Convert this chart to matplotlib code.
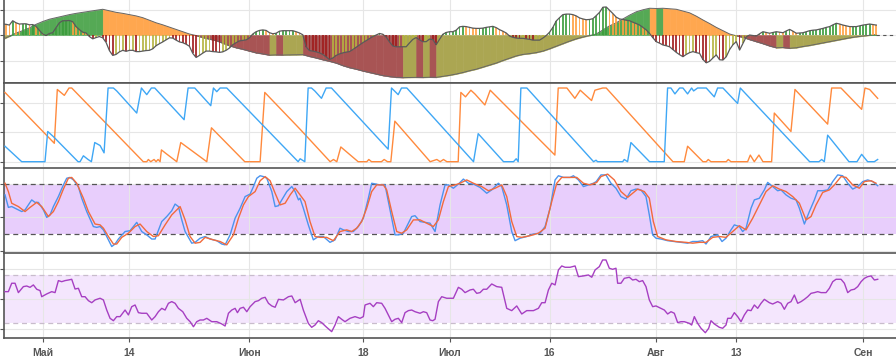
import numpy as np
import matplotlib.pyplot as plt

# time axis: day offsets from 25 Apr 2018
start = np.datetime64("2018-04-25")
tick_dates = np.array(["2018-05-01", "2018-05-14", "2018-06-01", "2018-06-18", "2018-07-01",
                       "2018-07-16", "2018-08-01", "2018-08-13", "2018-09-01"], dtype="datetime64[D]")
tick_labels = ["Май", "14", "Июн", "18", "Июл", "16", "Авг", "13", "Сен"]

# panel 1: oscillator histogram (12h candles) and its smoothed signal (daily)
hist = [0.43, 0.42, 0.39, 0.56, 0.48, 0.43, 0.44, 0.44, 0.40, 0.41,
        0.34, 0.18, 0.04, -0.02, 0.06, 0.09, 0.29, 0.48, 0.56, 0.56,
        0.57, 0.52, 0.33, 0.21, 0.11, 0.08, -0.06, -0.15, -0.10, -0.06,
        -0.11, -0.29, -0.61, -0.80, -0.76, -0.66, -0.60, -0.64, -0.60, -0.60,
        -0.65, -0.65, -0.63, -0.61, -0.60, -0.54, -0.42, -0.34, -0.27, -0.19,
        -0.11, -0.12, -0.20, -0.27, -0.30, -0.36, -0.44, -0.72, -0.88, -0.80,
        -0.71, -0.63, -0.63, -0.65, -0.66, -0.68, -0.66, -0.60, -0.51, -0.38,
        -0.30, -0.23, -0.21, -0.19, -0.11, 0.04, 0.13, 0.18, 0.20, 0.18,
        0.09, 0.05, 0.07, 0.15, 0.17, 0.17, 0.17, 0.17, 0.13, 0.08,
        0.01, -0.47, -0.61, -0.63, -0.66, -0.70, -0.76, -0.86, -0.96, -0.90,
        -0.80, -0.74, -0.70, -0.67, -0.65, -0.57, -0.48, -0.39, -0.30, -0.22,
        -0.14, -0.06, 0.00, 0.06, 0.03, -0.08, -0.27, -0.43, -0.46, -0.46,
        -0.46, -0.46, -0.31, -0.17, -0.10, -0.19, -0.26, -0.26, -0.16, -0.18,
        -0.38, -0.17, 0.03, 0.10, 0.13, 0.13, 0.19, 0.32, 0.34, 0.33,
        0.30, 0.27, 0.26, 0.26, 0.27, 0.30, 0.32, 0.34, 0.29, 0.21,
        0.15, 0.08, -0.04, -0.09, -0.12, -0.13, -0.13, -0.15, -0.17, -0.20,
        -0.20, -0.20, -0.12, -0.02, 0.11, 0.30, 0.55, 0.68, 0.80, 0.82,
        0.82, 0.80, 0.75, 0.67, 0.63, 0.60, 0.61, 0.64, 0.76, 0.89,
        1.09, 1.10, 0.97, 0.84, 0.70, 0.63, 0.61, 0.58, 0.56, 0.50,
        0.45, 0.39, 0.30, 0.20, 0.06, -0.11, -0.26, -0.32, -0.39, -0.42,
        -0.46, -0.57, -0.68, -0.77, -0.85, -0.76, -0.69, -0.65, -0.69, -0.72,
        -0.96, -1.09, -1.03, -0.90, -0.78, -0.97, -0.98, -0.85, -0.57, -0.38,
        -0.26, -0.59, -0.33, -0.07, 0.00, -0.02, -0.04, 0.05, 0.13, 0.10,
        0.07, 0.10, 0.13, 0.11, 0.09, 0.16, 0.22, 0.15, 0.07, 0.08,
        0.09, 0.13, 0.17, 0.19, 0.20, 0.23, 0.26, 0.30, 0.33, 0.40,
        0.46, 0.43, 0.39, 0.36, 0.33, 0.33, 0.33, 0.36, 0.39, 0.41,
        0.43, 0.41, 0.39]
signal = [-0.17, -0.05, 0.08, 0.17, 0.28, 0.42, 0.53, 0.62, 0.68, 0.74,
          0.80, 0.85, 0.89, 0.93, 0.97, 1.01, 0.95, 0.89, 0.85, 0.80,
          0.75, 0.68, 0.58, 0.48, 0.40, 0.31, 0.22, 0.13, 0.04, -0.02,
          -0.10, -0.16, -0.22, -0.32, -0.42, -0.50, -0.56, -0.63, -0.70, -0.74,
          -0.79, -0.78, -0.785, -0.78, -0.775, -0.77, -0.84, -0.90, -0.97, -1.03,
          -1.10, -1.20, -1.28, -1.34, -1.41, -1.47, -1.53, -1.59, -1.63, -1.66,
          -1.67, -1.665, -1.66, -1.665, -1.655, -1.66, -1.62, -1.58, -1.53, -1.47,
          -1.40, -1.34, -1.26, -1.18, -1.10, -1.00, -0.91, -0.82, -0.76, -0.73,
          -0.69, -0.63, -0.54, -0.44, -0.34, -0.24, -0.15, -0.08, -0.02, 0.04,
          0.20, 0.36, 0.48, 0.63, 0.78, 0.91, 0.99, 1.05, 1.04, 1.05,
          1.03, 1.01, 0.94, 0.87, 0.74, 0.59, 0.45, 0.30, 0.17, 0.04,
          -0.03, -0.09, -0.18, -0.26, -0.34, -0.43, -0.50, -0.49, -0.52, -0.50,
          -0.45, -0.41, -0.36, -0.31, -0.26, -0.21, -0.16, -0.11, -0.07, -0.04,
          -0.01, 0.02]

# panel 2: aroon up / down
aroon_up_day = [0.34, 7.74, 8.19, 9.24, 9.94, 10.35, 21.08, 21.6, 21.84, 22.2, 22.7, 23.0, 23.3, 23.6,
                23.8, 24.5, 26.1, 26.7, 30.6, 31.3, 36.3, 38.6, 39.3, 44.6, 49.1, 49.6, 50.1, 50.7,
                53.3, 54.6, 54.9, 55.3, 56.8, 57.2, 57.7, 58.2, 58.8, 64.1, 65.1, 65.6, 66.1, 66.6,
                68.3, 68.7, 69.4, 70.2, 70.8, 72.3, 73.1, 82.8, 83.3, 84.6, 85.8, 86.6, 88.3, 88.8,
                89.97, 90.5, 100.5, 102.2, 102.7, 105.0, 105.5, 105.8, 106.2, 108.5, 108.8, 109.2,
                111.7, 112.1, 112.7, 113.4, 114.0, 115.3, 115.7, 118.2, 118.8, 123.7, 124.3, 125.7,
                128.8, 129.3, 130.0, 131.2]
aroon_up = [94, 25, 98, 90, 100, 100, 0, 0, 3, 0, 3, 0, 3, 0,
            16, 11, 0, 26, 0, 46, 0, 0, 94, 44, 0, 3, 0, 20,
            0, 0, 3, 0, 0, 3, 0, 0, 55, 0, 3, 0, 3, 0,
            0, 94, 88, 97, 92, 77, 97, 9, 100, 100, 86, 97, 83, 97,
            100, 100, 0, 0, 21, 0, 0, 3, 0, 0, 3, 0,
            0, 9, 0, 9, 0, 0, 66, 41, 98, 51, 100, 100,
            71, 100, 98, 86]
aroon_dn_day = [0.34, 2.85, 6.34, 6.75, 7.6, 11.3, 11.6, 12.1, 12.8, 13.3, 13.8, 14.6, 15.2, 15.8,
                16.6, 17.1, 20.1, 20.8, 21.6, 22.3, 22.8, 27.2, 27.8, 28.8, 31.2, 31.6, 32.1, 32.6,
                33.6, 44.3, 44.6, 45.3, 45.8, 46.3, 46.8, 47.8, 48.5, 49.3, 57.8, 58.3, 59.3, 59.8,
                60.6, 70.6, 71.3, 75.1, 76.6, 77.0, 77.3, 77.7, 78.6, 88.6, 88.97, 89.2, 92.97, 93.2,
                93.7, 94.2, 97.0, 99.2, 99.7, 100.2, 100.8, 101.5, 102.0, 102.7, 103.3, 103.6, 104.2,
                105.5, 106.7, 107.2, 108.0, 110.2, 110.6, 121.0, 122.4, 122.8, 123.2, 123.7, 126.9,
                128.1, 128.8, 129.7, 130.7, 131.2]
aroon_dn = [21, 0, 0, 41, 34, 0, 0, 8, 3, 0, 26, 22, 12, 100,
            100, 96, 66, 100, 91, 100, 100, 57, 100, 100, 76, 100, 95, 100,
            100, 0, 4, 0, 100, 100, 96, 86, 100, 100, 17, 100, 91, 100,
            100, 0, 38, 0, 0, 4, 0, 100, 100, 0, 2, 0, 0, 3,
            0, 26, 0, 0, 100, 100, 92, 100, 100, 92, 100, 96, 100,
            100, 88, 100, 100, 79, 100, 0, 0, 3, 0, 36, 0,
            0, 10, 0, 0, 3]

# panel 3: stochastic %K / %D
k_day = [0.35, 0.85, 1.35, 1.85, 2.85, 3.35, 4.35, 4.85, 5.35, 6.1, 6.6, 7.1, 7.6, 8.35, 9.1, 9.6,
         10.1, 10.6, 11.35, 11.85, 12.6, 13.6, 14.1, 14.6, 15.1, 15.6, 16.35, 16.85, 17.35, 18.35,
         19.1, 20.1, 20.85, 21.6, 22.35, 22.85, 23.85, 24.6, 25.35, 25.85, 26.35, 26.85, 27.35,
         28.35, 28.85, 29.6, 30.35, 31.1, 32.1, 32.85, 33.35, 34.1, 34.85, 35.6, 36.35, 37.1, 37.6,
         38.1, 38.6, 39.1, 39.6, 40.35, 40.85, 41.35, 41.85, 42.6, 43.35, 43.85, 44.35,
         44.58, 45.08, 45.83, 46.58, 47.33, 48.08, 49.08, 49.83, 50.58, 51.08, 51.83, 52.58, 53.33,
         54.08, 54.83, 55.33, 56.58, 57.33, 57.83, 58.83, 59.33, 60.08, 60.83, 61.33, 61.83, 62.58,
         63.33, 64.08, 64.83, 65.58, 66.33, 66.83, 67.58, 68.33, 69.08, 69.83, 70.58, 71.58, 72.58,
         73.33, 74.33, 74.83, 75.58, 76.33, 76.83, 77.58, 78.58, 79.58, 80.58, 81.33, 82.08, 82.83,
         83.33, 84.08, 85.08, 85.58, 86.33, 87.08, 87.83, 88.58,
         89.0, 89.71, 90.46, 91.21, 91.96, 92.71, 93.46, 94.21, 94.96, 95.71, 96.46, 96.96, 97.46,
         97.96, 98.71, 99.71, 100.71, 101.71, 102.71, 103.46, 104.21, 104.96, 105.46, 106.21, 107.21,
         107.86, 108.46, 109.21, 109.71, 110.46, 110.96, 111.46, 112.21, 112.71, 113.46, 114.21,
         114.71, 115.46, 116.21, 116.71, 117.46, 118.21, 118.96, 119.46, 120.21, 120.96, 121.71,
         122.21, 122.96, 123.71, 124.46, 125.21, 125.96, 126.71, 127.46, 128.21, 128.96, 129.71,
         130.46, 131.21]
stoch_k = [67, 52, 53, 51, 47, 49, 61, 58, 58, 49, 40, 43, 53, 65, 79, 87,
           88, 85, 77, 63, 47, 29, 28, 29, 25, 17, 5, 8, 14, 23,
           24, 34, 23, 19, 14, 14, 35, 41, 48, 56, 53, 37, 23,
           9, 10, 15, 17, 14, 12, 8, 7, 19, 39, 51, 65, 68, 77,
           87, 90, 89, 87, 71, 53, 54, 61, 71, 77, 71, 61,
           63, 51, 31, 13, 17, 17, 10, 13, 27, 25, 23, 23, 29,
           39, 63, 81, 79, 79, 59, 19, 19, 21, 33, 41, 42, 35,
           34, 33, 23, 55, 79, 79, 75, 80, 86, 81, 80, 76, 69,
           73, 81, 77, 55, 23, 12, 15, 17, 20, 21, 29, 51, 85,
           90, 88, 88, 90, 85, 77, 79, 81,
           83, 91, 91, 81, 75, 65, 62, 72, 74, 73, 65, 43, 19,
           15, 14, 12, 11, 10, 9, 11, 11, 12, 8, 17, 19,
           11, 15, 25, 31, 29, 23, 27, 51, 61, 63, 73,
           82, 77, 72, 73, 67, 63, 61, 51, 32, 47, 61,
           72, 72, 73, 83, 91, 90, 81, 74, 77, 83, 85,
           83, 78]
d_day = [0.35, 0.85, 1.35, 1.85, 2.35, 3.35, 4.1, 5.1, 5.85, 6.85, 7.6, 8.35, 9.1, 9.85, 10.35,
         11.1, 12.1, 12.85, 13.85, 14.6, 15.1, 15.85, 16.6, 17.1, 17.85, 18.85, 19.85, 20.6, 21.6,
         22.6, 23.35, 24.35, 25.35, 26.6, 27.35, 28.1, 28.85, 29.6, 30.35, 31.6, 32.6, 33.6, 34.6,
         35.35, 36.1, 36.85, 37.85, 38.6, 39.35, 40.1, 40.85, 41.6, 42.35, 43.1, 43.85, 44.6,
         45.33, 46.08, 46.83, 47.58, 48.58, 49.58, 50.58, 51.58, 52.33, 53.08, 53.83, 54.58, 55.33,
         56.08, 57.08, 57.58, 58.33, 59.08, 59.83, 60.58, 61.58, 62.58, 63.58, 64.58, 65.33, 66.08,
         66.83, 67.83, 68.58, 69.58, 70.58, 71.83, 72.83, 73.83, 74.83, 75.58, 76.33, 77.08, 77.83,
         79.08, 80.33, 81.33, 82.33, 83.08, 83.83, 85.08, 86.08, 87.08, 88.08, 89.08,
         89.71, 90.71, 91.71, 92.71, 93.71, 94.46, 95.21, 96.21, 96.96, 97.56, 98.21, 99.46, 100.96,
         102.46, 103.46, 104.46, 105.46, 106.46, 107.46, 108.46, 109.46, 110.46, 111.46, 112.46,
         113.46, 114.46, 115.46, 116.46, 117.46, 118.46, 119.46, 120.46, 121.21, 121.96, 122.96,
         123.96, 124.71, 125.71, 126.46, 127.46, 128.46, 129.21, 130.21, 130.96]
stoch_d = [81, 71, 57, 55, 53, 47, 52, 58, 53, 41, 47, 59, 74, 87, 88,
           81, 63, 47, 32, 31, 27, 17, 8, 8, 16, 21, 29, 32, 23,
           17, 18, 31, 43, 53, 37, 17, 9, 10, 16, 13, 11, 7, 19,
           39, 55, 65, 71, 84, 89, 84, 69, 55, 57, 67, 75, 67,
           59, 35, 17, 16, 16, 12, 23, 25, 23, 27, 35, 51, 71,
           79, 79, 73, 47, 23, 21, 25, 37, 37, 33, 29, 37, 59,
           77, 79, 81, 85, 81, 77, 72, 75, 79, 65, 35, 17, 16,
           18, 21, 27, 59, 81, 88, 88, 88, 81, 79, 82,
           89, 92, 85, 71, 64, 69, 74, 71, 63, 35, 17, 13, 11,
           10, 9, 10, 10, 16, 17, 16, 23, 30, 25, 39,
           55, 71, 78, 74, 71, 65, 57, 37, 41, 55, 70,
           73, 79, 89, 88, 79, 75, 83, 84, 81]

# panel 4: RSI
rsi_day = [0.35, 0.85, 1.35, 1.85, 2.35, 3.1, 3.6, 4.1, 4.6, 5.1, 5.6, 5.85, 6.6, 7.35, 7.85, 8.35,
           8.85, 9.35, 9.85, 10.35, 10.85, 11.35, 11.85, 12.35, 12.85, 13.35, 13.85, 14.6, 15.1,
           15.6, 16.1, 16.6, 17.1, 17.6, 18.35, 18.85, 19.35, 19.85, 20.35, 20.85, 21.6, 22.35,
           22.85, 23.35, 23.85, 24.35, 24.85, 25.35, 25.85, 26.35, 27.0, 27.6, 28.1, 28.6, 29.1,
           29.6, 30.1, 30.6, 31.35, 32.1, 32.85, 33.35, 33.85, 34.35, 34.85, 35.2, 35.6, 36.1,
           36.6, 37.1, 37.85, 38.35, 38.85, 39.35, 39.85, 40.35, 40.85, 41.35, 42.1, 42.85, 43.35,
           43.85, 44.6,
           45.08, 45.83, 46.33, 46.83, 47.33, 47.83, 48.58, 49.33, 49.83, 50.33, 50.83, 51.33,
           52.08, 52.83, 53.58, 54.08, 54.33, 55.08, 55.58, 56.08, 56.83, 57.33, 57.83, 58.33,
           58.83, 59.33, 59.83, 60.33, 60.83, 61.33, 61.83, 62.58, 63.08, 63.58, 64.08, 64.48,
           64.83, 65.33, 65.83, 66.58, 67.58, 68.33, 68.83, 69.33, 70.08, 70.58, 71.08, 71.58,
           72.08, 72.58, 73.33, 74.08, 74.83, 75.58, 76.33, 77.08, 77.83, 78.58, 79.58, 80.33,
           80.83, 81.33, 81.83, 82.33, 82.83, 83.33, 83.83, 84.33, 85.08, 85.83, 86.33, 87.08,
           87.83, 88.33, 88.83,
           89.46, 89.96, 90.46, 90.96, 91.46, 91.96, 92.21, 92.71, 93.21, 93.96, 94.46, 94.96,
           95.46, 95.96, 96.46, 96.96, 97.46, 97.96, 98.71, 99.21, 99.71, 100.21, 100.71, 101.21,
           101.71, 102.21, 102.96, 103.31, 103.71, 104.21, 104.71, 105.36, 105.86, 106.21, 106.71,
           107.46, 107.96, 108.46, 108.71, 109.21, 109.71, 110.21, 110.71, 111.21, 111.71, 112.21,
           112.71, 113.21, 113.71, 114.21, 114.96, 115.46, 116.21, 116.71, 117.21, 117.71, 118.21,
           118.71, 119.21, 119.71, 120.21, 120.71, 121.21, 121.71, 122.21, 122.71, 123.46, 123.96,
           124.46, 124.96, 125.71, 126.21, 126.71, 127.21, 127.71, 128.21, 128.71, 129.21, 129.71,
           130.21, 130.71, 131.21]
rsi = [56.1, 56.1, 63.1, 63.1, 55.3, 60.3, 60.8, 59.7, 61.7, 58.1, 57.0, 51.9, 54.2, 56.1, 55.3, 65.3,
       64.4, 65.3, 65.8, 66.4, 58.3, 58.9, 51.9, 51.9, 48.6, 46.9, 49.2, 50.6, 49.2,
       40.8, 33.9, 31.9, 35.3, 35.3, 40.8, 36.7, 43.6, 45.0, 38.6, 38.1, 38.1, 32.5,
       35.3, 39.4, 42.2, 40.8, 46.4, 47.8, 46.4, 42.2, 39.4, 33.9, 31.1, 26.9, 31.1,
       32.5, 32.5, 33.9, 31.1, 31.1, 29.2, 27.5, 38.1, 40.8, 42.2, 38.6, 42.2, 43.1,
       39.4, 43.6, 47.8, 48.6, 50.6, 51.4, 46.4, 44.2, 43.1, 49.7, 49.2, 51.9, 52.5,
       46.9, 49.7,
       40.8, 29.7, 26.4, 28.3, 31.9, 30.3, 26.4, 22.8, 28.3, 35.3, 33.1, 31.1,
       33.9, 35.3, 33.9, 35.3, 45.0, 46.4, 43.6, 46.9, 46.4, 42.2, 36.7, 31.1,
       33.1, 33.9, 30.3, 38.6, 40.3, 40.8, 39.4, 38.1, 39.4, 38.6, 32.5, 31.9,
       33.1, 47.8, 51.9, 50.6, 50.6, 59.7, 58.1, 55.3, 57.5, 58.1, 54.7, 55.3,
       58.1, 58.1, 62.5, 60.3, 59.7, 42.2, 40.3, 44.2, 37.5, 40.3, 40.3, 42.2,
       46.9, 46.9, 57.5, 63.1, 61.7, 74.2, 77.5, 76.4, 76.4, 77.5, 68.6, 69.2,
       70.0, 68.1, 74.2,
       76.9, 82.5, 82.5, 75.6, 74.7, 75.6, 63.1, 63.1, 67.2, 68.1, 65.8, 66.4,
       64.4, 65.3, 60.3, 49.2, 43.6, 44.2, 42.2, 40.8, 37.5, 39.4, 38.1, 30.3,
       31.1, 31.1, 29.7, 28.3, 35.3, 29.7, 25.6, 21.9, 25.6, 31.9, 29.2,
       26.4, 25.6, 28.3, 33.9, 33.9, 38.6, 35.3, 31.1, 36.7, 40.8, 40.3,
       45.0, 42.2, 46.4, 49.7, 46.9, 45.8, 47.8, 46.4, 41.4, 46.4, 47.8,
       53.3, 46.4, 47.8, 49.7, 51.9, 54.7, 55.3, 56.1, 55.3, 55.3, 58.9,
       64.4, 66.4, 66.4, 63.1, 55.3, 57.5, 58.1, 60.3, 64.4, 67.2, 68.6,
       69.2, 65.8, 66.4]

# colours
GREEN, ORANGE, RED, OLIVE = "#55a955", "#ffa74f", "#a85454", "#aba652"
BAR_GREEN, BAR_ORANGE, BAR_RED, BAR_OLIVE = "#3a9c3a", "#ffa040", "#a01c1c", "#b5b440"
AXIS = "#555555"
GRID = "#e6e6e6"

tick_days = (tick_dates - start).astype(float)
xmin, xmax = 0.12, 133.95

fig = plt.figure(figsize=(8.96, 3.61), dpi=100)
left = 3.5 / 896
rects = [(0.770, 0.230), (0.5374, 0.2327), (0.3019, 0.2327), (0.0637, 0.2355)]
axes = [fig.add_axes([left, b, 1 - left, h]) for b, h in rects]
ax1, ax2, ax3, ax4 = axes

ylims = [(-1.882, 1.373), (-7.2, 106.8), (-1.6, 99.3), (17.5, 88.3)]
yticks = [[-1, 0, 1], [0, 40, 80], [0, 40, 80], [25, 50, 75]]
for ax, yl, yt in zip(axes, ylims, yticks):
    ax.set_xlim(xmin, xmax)
    ax.set_ylim(*yl)
    ax.set_xticks(tick_days)
    ax.set_yticks(yt)
    ax.set_axisbelow("line")
    ax.grid(True, color=GRID, lw=0.8)
    ax.tick_params(axis="y", length=3, width=0.8, color=AXIS, labelleft=False)
    ax.tick_params(axis="x", length=0, labelbottom=False)
    ax.spines["right"].set_visible(False)
    ax.spines["bottom"].set_visible(False)
    for s in ("left", "top", "bottom"):
        ax.spines[s].set_color(AXIS)
        ax.spines[s].set_linewidth(1.2)
ax1.spines["top"].set_visible(False)
ax1.spines["bottom"].set_visible(True)
ax4.spines["bottom"].set_visible(True)

ax4.tick_params(axis="x", length=3, color=AXIS, labelbottom=True, pad=4)
ax4.set_xticklabels(tick_labels, fontfamily="Liberation Sans", fontweight="bold",
                    fontsize=7.5, color=AXIS)

# panel 1
day = np.arange(len(signal))
sig = np.array(signal)
for i in range(1, len(sig)):
    rising = sig[i] >= sig[i - 1]
    if (sig[i] + sig[i - 1]) / 2 >= 0:
        c = GREEN if rising else ORANGE
    else:
        c = OLIVE if rising else RED
    ax1.fill_between(day[i - 1:i + 1], sig[i - 1:i + 1], 0, color=c, lw=0.4, ec=c, zorder=2)
ax1.plot(day, sig, color="#666666", lw=0.7, zorder=3)

h = np.array(hist)
hday = np.arange(len(h)) * 0.5
bar_colors = []
for i in range(len(h)):
    rising = i == 0 or h[i] >= h[i - 1]
    if h[i] >= 0:
        bar_colors.append(BAR_GREEN if rising else BAR_ORANGE)
    else:
        bar_colors.append(BAR_OLIVE if rising else BAR_RED)
ax1.bar(hday, h, width=0.26, color=bar_colors, alpha=0.85, zorder=4)
ax1.plot(hday, h, color="#5a5a5a", lw=0.9, zorder=5)
ax1.plot([hday[-1], xmax], [0, 0], ls=(0, (3, 3)), color=AXIS, lw=0.8, zorder=5)

# panel 2
ax2.plot(aroon_up_day, aroon_up, color="#ff8a3d", lw=1.0, zorder=3)
ax2.plot(aroon_dn_day, aroon_dn, color="#3fa7f5", lw=1.0, zorder=3)

# panel 3
ax3.axhspan(20, 80, color="#e8cefc", lw=0, zorder=0)
for lvl in (20, 80):
    ax3.axhline(lvl, color=AXIS, lw=0.9, ls=(0, (4, 3)), zorder=2)
ax3.plot(k_day, stoch_k, color="#4b94ee", lw=1.0, zorder=3)
ax3.plot(d_day, stoch_d, color="#f26a3c", lw=1.0, zorder=3)

# panel 4
ax4.axhspan(30, 70, color="#f4e6fd", lw=0, zorder=0)
for lvl in (30, 70):
    ax4.axhline(lvl, color="#c8bccc", lw=0.9, ls=(0, (4, 3)), zorder=2)
ax4.plot(rsi_day, rsi, color="#a63fc2", lw=1.0, zorder=3)

fig.savefig("out.png", dpi=100)
